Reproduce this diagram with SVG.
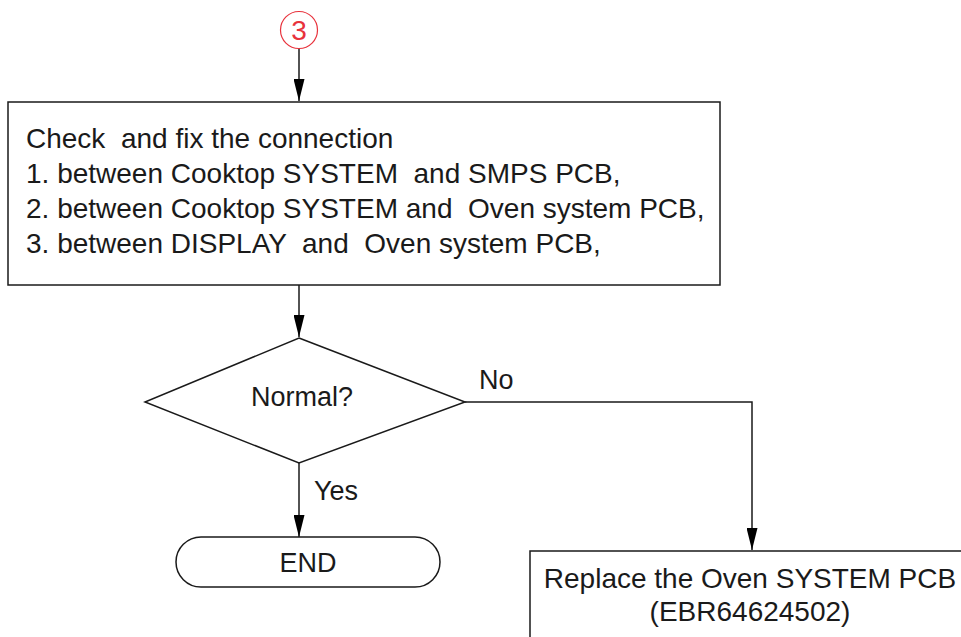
<svg xmlns="http://www.w3.org/2000/svg" width="961" height="637" viewBox="0 0 961 637" xml:space="preserve">
<style>
.s{fill:#fff;stroke:#1a1a1a;stroke-width:1.5}
.c{fill:none;stroke:#1a1a1a;stroke-width:1.5}
.t{font-family:"Liberation Sans",Arial,sans-serif;font-size:28px;fill:#1a1a1a;white-space:pre}
</style>
<defs>
<marker id="ah" markerWidth="22" markerHeight="11" refX="22" refY="5.5" orient="auto" markerUnits="userSpaceOnUse" viewBox="0 0 22 11" preserveAspectRatio="none">
<path d="M0,0 L22,5.5 L0,11 Z" fill="#000"/>
</marker>
</defs>
<rect width="961" height="637" fill="#fff"/>
<g id="connectors">
<path class="c" d="M299,48 V101" marker-end="url(#ah)"/>
<path class="c" d="M299,285 V337" marker-end="url(#ah)"/>
<path class="c" d="M299,463 V537" marker-end="url(#ah)"/>
<path class="c" d="M465,402 H752 V550" marker-end="url(#ah)"/>
<text class="t" x="479" y="389" style="font-size:27px">No</text>
<text class="t" x="314" y="500" style="font-size:27px">Yes</text>
</g>
<g id="start">
<circle cx="299" cy="30" r="18.5" fill="#fff" stroke="#e8323c" stroke-width="1.2"/>
<text class="t" x="299" y="40" text-anchor="middle" style="fill:#e8323c;font-size:28px">3</text>
</g>
<g id="check">
<rect class="s" x="8" y="102" width="712" height="183"/>
<text class="t" x="26" y="148">Check  and fix the connection</text>
<text class="t" x="26" y="183">1. between Cooktop SYSTEM  and SMPS PCB,</text>
<text class="t" x="26" y="218">2. between Cooktop SYSTEM and  Oven system PCB,</text>
<text class="t" x="26" y="253">3. between DISPLAY  and  Oven system PCB,</text>
</g>
<g id="decision">
<polygon class="s" points="299,338 465,402 299,463 145,402"/>
<text class="t" x="302" y="406" text-anchor="middle" style="font-size:27px">Normal?</text>
</g>
<g id="end">
<rect class="s" x="176" y="537" width="264" height="50" rx="25"/>
<text class="t" x="308" y="572" text-anchor="middle" style="font-size:27px">END</text>
</g>
<g id="replace">
<rect class="s" x="530" y="551" width="440" height="100"/>
<text class="t" x="750" y="588" text-anchor="middle">Replace the Oven SYSTEM PCB</text>
<text class="t" x="750" y="621" text-anchor="middle">(EBR64624502)</text>
</g>
</svg>
